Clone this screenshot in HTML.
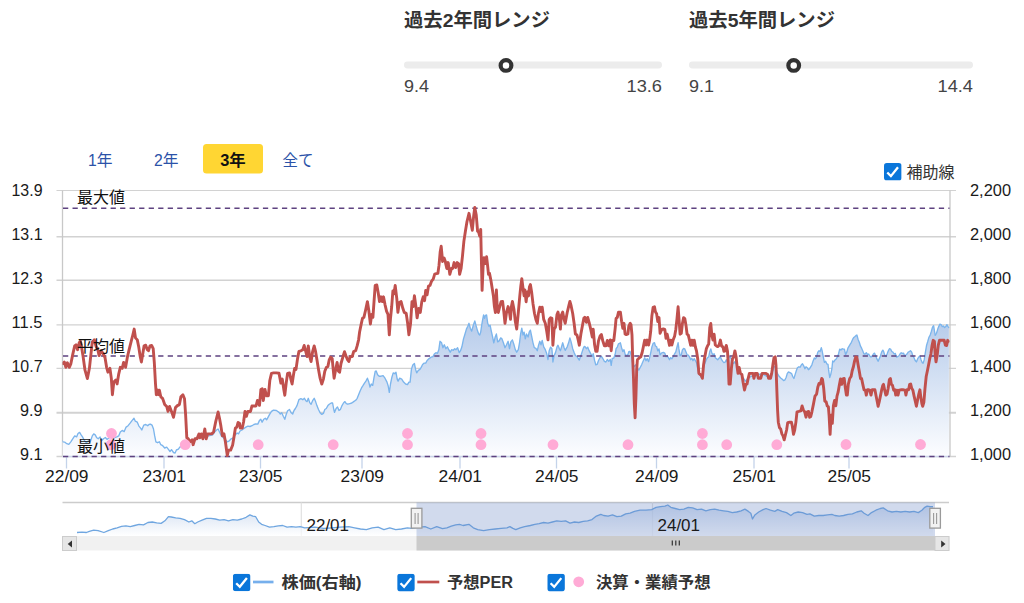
<!DOCTYPE html>
<html lang="ja"><head><meta charset="utf-8"><title>予想PER チャート</title>
<style>
html,body{margin:0;padding:0;background:#fff;}
body{width:1024px;height:603px;overflow:hidden;font-family:"Liberation Sans","Noto Sans CJK JP",sans-serif;}
svg{display:block}
</style></head><body>
<svg width="1024" height="603" viewBox="0 0 1024 603" font-family="'Liberation Sans', 'Noto Sans CJK JP', sans-serif">
<defs>
<linearGradient id="ga" x1="0" y1="317" x2="0" y2="456" gradientUnits="userSpaceOnUse"><stop offset="0" stop-color="#b4caea"/><stop offset="1" stop-color="#fcfdff"/></linearGradient>
<linearGradient id="gn" x1="0" y1="504" x2="0" y2="536" gradientUnits="userSpaceOnUse"><stop offset="0" stop-color="#b9cdea"/><stop offset="1" stop-color="#ffffff"/></linearGradient>
<clipPath id="cp"><rect x="62.5" y="186" width="887" height="272"/></clipPath>
<symbol id="cb" viewBox="0 0 17.6 17.6"><rect x="0" y="0" width="17.6" height="17.6" rx="2.8" fill="#0a76da"/><path d="M3.3 9.5 L6.9 13.1 L14.0 4.3" fill="none" stroke="#fff" stroke-width="2.3" stroke-linecap="butt" stroke-linejoin="miter"/></symbol>
</defs>
<rect width="1024" height="603" fill="#fff"/>
<text x="404" y="26.6" font-size="19" font-weight="bold" fill="#333" text-anchor="start" textLength="146" lengthAdjust="spacingAndGlyphs">過去2年間レンジ</text>
<rect x="404" y="61.6" width="258" height="6.8" rx="3.4" fill="#ececec"/>
<circle cx="506" cy="65.4" r="5.35" fill="#fff" stroke="#333" stroke-width="4.2"/>
<text x="404" y="91.8" font-size="17" fill="#444" text-anchor="start" font-weight="normal" textLength="25" lengthAdjust="spacingAndGlyphs">9.4</text>
<text x="662" y="91.8" font-size="17" fill="#444" text-anchor="end" font-weight="normal" textLength="35.5" lengthAdjust="spacingAndGlyphs">13.6</text>
<text x="689" y="26.6" font-size="19" font-weight="bold" fill="#333" text-anchor="start" textLength="146" lengthAdjust="spacingAndGlyphs">過去5年間レンジ</text>
<rect x="689" y="61.6" width="284" height="6.8" rx="3.4" fill="#ececec"/>
<circle cx="793.7" cy="65.4" r="5.35" fill="#fff" stroke="#333" stroke-width="4.2"/>
<text x="689" y="91.8" font-size="17" fill="#444" text-anchor="start" font-weight="normal" textLength="25" lengthAdjust="spacingAndGlyphs">9.1</text>
<text x="973" y="91.8" font-size="17" fill="#444" text-anchor="end" font-weight="normal" textLength="35.5" lengthAdjust="spacingAndGlyphs">14.4</text>
<text x="88" y="165.6" font-size="16" fill="#2b52a8" text-anchor="start" textLength="24.5" lengthAdjust="spacingAndGlyphs">1年</text>
<text x="154" y="165.6" font-size="16" fill="#2b52a8" text-anchor="start" textLength="24.5" lengthAdjust="spacingAndGlyphs">2年</text>
<rect x="203" y="144" width="60" height="29.6" rx="3.5" fill="#ffd633"/>
<text x="233" y="165.6" font-size="16" font-weight="bold" fill="#111" text-anchor="middle" textLength="25.5" lengthAdjust="spacingAndGlyphs">3年</text>
<text x="282.5" y="165.6" font-size="16" fill="#2b52a8" text-anchor="start" textLength="31" lengthAdjust="spacingAndGlyphs">全て</text>
<use href="#cb" x="884" y="163" width="17.6" height="17.6"/>
<text x="906.5" y="177.5" font-size="16" fill="#333" text-anchor="start" textLength="48" lengthAdjust="spacingAndGlyphs">補助線</text>
<path d="M56.5 190.5H956.0" stroke="#d2d2d2" stroke-width="1.2" fill="none"/>
<path d="M56.5 236.75H956.0" stroke="#d2d2d2" stroke-width="1.5" fill="none"/>
<path d="M56.5 280.2H956.0" stroke="#d2d2d2" stroke-width="1.4" fill="none"/>
<path d="M56.5 324.9H956.0" stroke="#d2d2d2" stroke-width="1.4" fill="none"/>
<path d="M56.5 368.3H956.0" stroke="#d2d2d2" stroke-width="1.25" fill="none"/>
<path d="M56.5 412.7H956.0" stroke="#d2d2d2" stroke-width="1.9" fill="none"/>
<path d="M56.5 456.5H956.0" stroke="#d2d2d2" stroke-width="1.3" fill="none"/>
<path d="M62.5 190.5V456.5" stroke="#c8c8c8" stroke-width="1.3" fill="none"/>
<path d="M950.0 190.5V456.5" stroke="#c8c8c8" stroke-width="1.3" fill="none"/>
<path d="M66.5 456.5V468.5" stroke="#c4d3ea" stroke-width="1.3" fill="none"/>
<path d="M164 456.5V468.5" stroke="#c4d3ea" stroke-width="1.3" fill="none"/>
<path d="M260.5 456.5V468.5" stroke="#c4d3ea" stroke-width="1.3" fill="none"/>
<path d="M362 456.5V468.5" stroke="#c4d3ea" stroke-width="1.3" fill="none"/>
<path d="M460 456.5V468.5" stroke="#c4d3ea" stroke-width="1.3" fill="none"/>
<path d="M556.5 456.5V468.5" stroke="#c4d3ea" stroke-width="1.3" fill="none"/>
<path d="M656.5 456.5V468.5" stroke="#c4d3ea" stroke-width="1.3" fill="none"/>
<path d="M754 456.5V468.5" stroke="#c4d3ea" stroke-width="1.3" fill="none"/>
<path d="M849 456.5V468.5" stroke="#c4d3ea" stroke-width="1.3" fill="none"/>
<g clip-path="url(#cp)"><polygon points="62.3,457.0 62.3,440.8 62.9,441.8 64.9,442.2 66.8,443.7 68.8,444.3 70.8,441.8 72.7,438.8 74.7,435.9 76.6,436.9 78.0,433.5 79.6,432.4 81.1,434.9 82.5,436.9 84.5,440.8 86.4,442.7 88.4,440.8 90.3,441.8 92.3,435.9 93.7,433.9 95.2,434.9 96.8,437.8 98.2,438.8 100.1,436.9 101.5,440.8 103.4,438.8 105.4,437.5 107.0,439.4 108.9,437.8 111.3,436.9 113.8,437.8 116.8,436.9 118.7,435.9 120.3,432.0 122.2,430.4 124.2,431.6 126.1,427.1 128.1,425.7 130.1,423.2 132.0,420.6 134.0,418.3 135.3,421.2 137.3,422.2 138.9,426.1 140.6,428.1 141.8,430.0 143.8,425.1 145.7,424.5 147.7,425.7 149.0,424.5 150.4,424.1 152.0,425.1 153.5,429.0 154.7,435.9 155.9,441.8 157.5,442.7 159.4,441.8 160.8,444.7 162.7,445.7 164.7,448.0 166.7,447.2 168.6,449.6 170.0,451.5 171.5,449.6 173.5,452.5 175.1,453.1 176.4,450.0 178.4,449.2 179.8,447.2 182.3,445.7 185.2,443.7 188.2,442.2 190.1,441.8 192.7,440.2 195.0,438.8 197.0,437.5 200.9,436.9 204.8,435.9 208.7,435.9 212.6,434.9 214.6,432.0 216.6,430.0 218.1,429.0 219.5,432.0 221.4,435.9 223.4,437.8 225.4,439.8 227.3,441.8 229.3,440.8 231.2,438.8 233.2,437.8 235.1,434.9 237.1,433.0 238.5,433.9 240.0,431.0 242.0,430.0 244.0,428.5 245.9,427.1 247.9,426.1 250.0,426.5 252.0,425.7 253.9,424.5 255.9,423.8 257.8,424.1 259.4,420.6 260.8,419.3 262.1,422.2 263.7,419.3 265.3,418.3 266.6,419.8 268.0,417.3 269.6,414.4 271.5,411.4 273.5,410.1 276.4,410.5 279.0,412.4 280.3,414.0 281.7,412.8 283.3,416.3 284.8,419.3 286.2,414.4 287.6,410.8 289.5,409.5 291.1,412.8 292.7,414.0 294.0,410.5 295.4,408.5 297.0,405.6 298.9,399.7 300.9,398.7 302.8,399.7 304.4,398.3 305.8,400.7 307.1,401.6 308.3,398.3 309.7,402.6 311.1,404.2 312.6,400.7 314.2,398.3 315.6,401.6 316.9,405.6 318.5,409.5 320.1,412.8 321.8,414.4 323.4,413.4 324.8,409.5 326.3,408.5 327.9,405.6 329.3,404.2 331.2,403.0 332.6,403.0 333.8,409.5 334.5,412.4 336.1,408.5 337.5,406.9 339.0,410.5 340.4,409.5 342.0,405.6 343.5,403.0 344.9,401.6 346.3,403.6 347.8,404.2 349.8,403.6 351.8,403.0 353.7,401.6 355.7,400.3 357.2,398.3 358.6,394.8 360.0,391.3 361.5,387.9 363.1,385.4 364.5,383.1 365.9,381.1 367.4,378.2 368.8,382.1 370.0,387.0 371.3,384.0 372.7,385.4 373.9,378.2 375.2,371.3 376.2,370.9 377.6,374.8 379.2,376.2 381.1,376.2 383.1,375.6 385.0,378.2 387.0,382.1 388.2,386.0 389.3,392.4 390.5,384.0 391.9,377.2 393.2,372.9 394.8,373.7 396.0,372.3 397.2,379.1 398.1,381.1 399.7,378.2 401.7,379.1 403.6,382.1 405.6,384.0 407.5,384.6 408.9,382.1 410.1,382.1 411.4,369.4 412.8,365.0 414.4,363.5 415.6,369.4 416.7,372.9 418.3,370.3 419.9,369.4 421.2,367.4 422.6,364.5 424.2,363.1 425.7,363.1 427.1,360.5 429.1,358.6 431.0,357.2 433.0,356.6 434.3,354.1 435.9,352.7 437.5,353.3 438.8,349.8 440.0,341.3 441.6,342.8 442.9,347.7 444.3,344.8 445.9,348.7 447.4,346.8 448.8,349.7 450.2,352.2 451.7,349.7 453.3,350.3 454.7,348.7 456.0,349.7 457.6,347.7 459.2,352.6 460.5,350.7 461.9,346.8 463.5,338.9 465.0,334.0 466.4,329.1 467.8,326.2 469.0,323.3 470.3,328.2 471.7,331.1 473.3,325.2 474.8,320.9 476.2,326.2 477.6,331.1 478.7,334.0 479.7,335.0 480.7,332.1 481.7,325.2 482.7,319.4 483.6,315.0 484.6,318.4 485.4,315.4 486.6,315.0 487.7,323.3 488.9,326.2 490.1,325.2 491.3,331.1 492.4,336.0 493.8,342.8 495.2,337.0 496.4,334.0 497.7,341.9 499.1,340.9 500.7,337.9 501.8,338.5 503.4,342.8 505.0,347.7 506.5,344.8 508.1,341.3 509.5,348.7 510.8,341.9 512.4,339.9 514.0,344.8 515.3,349.7 516.7,352.2 518.3,349.7 519.5,342.8 520.6,334.0 521.8,328.2 523.0,335.0 524.1,332.1 525.3,338.9 526.5,334.0 528.1,337.0 529.2,332.1 530.4,330.1 531.6,336.0 533.0,342.8 534.3,347.7 535.9,348.3 537.3,350.7 538.4,345.8 539.8,341.3 541.0,344.8 542.2,340.5 543.7,346.8 545.3,349.7 546.7,353.6 548.0,359.5 549.2,350.7 550.6,347.1 551.9,348.7 552.9,362.0 554.1,355.6 555.5,352.6 557.0,346.8 558.0,345.2 559.4,348.7 560.4,350.7 561.3,347.7 562.7,342.8 564.1,347.7 565.2,350.3 567.2,346.8 568.6,342.8 569.9,337.9 571.1,341.9 572.7,348.7 574.1,352.6 575.4,355.6 577.0,356.5 578.2,358.5 579.3,360.1 580.9,355.6 582.5,350.7 583.8,347.1 584.8,346.4 586.4,348.7 587.7,347.1 589.1,350.7 590.7,353.6 592.3,356.5 593.2,353.6 594.6,360.5 595.8,364.8 597.1,364.4 598.5,360.5 600.1,357.5 601.4,356.5 602.8,358.5 604.4,361.4 605.9,362.0 607.3,359.5 608.7,361.4 610.3,359.5 611.2,365.3 612.2,358.5 613.8,358.1 615.1,354.6 616.1,348.7 617.3,347.1 618.5,343.8 620.4,342.8 621.6,347.7 622.8,351.6 624.0,349.7 625.1,354.2 626.3,355.6 627.9,354.6 628.8,351.6 630.0,351.3 631.6,356.8 632.9,364.6 634.3,366.5 635.9,364.6 637.4,368.5 638.8,370.1 640.2,367.5 641.7,364.6 643.3,360.7 644.7,357.7 646.0,360.7 647.2,358.7 648.6,361.6 649.6,357.7 650.7,352.8 651.9,347.0 653.1,343.4 654.5,342.7 655.4,346.0 656.6,346.6 657.8,350.9 659.0,348.9 660.1,354.8 661.7,352.8 663.3,352.4 664.8,353.2 666.0,356.8 667.2,355.8 668.4,357.7 669.5,359.7 670.7,357.7 671.9,358.7 673.1,356.8 674.6,353.8 675.8,351.9 677.0,347.0 678.1,342.7 678.9,348.9 680.1,355.8 681.3,354.8 682.4,349.9 683.6,348.5 684.8,348.9 686.0,351.9 687.1,354.8 688.3,355.2 689.5,356.8 690.7,359.7 691.8,358.3 693.0,360.7 694.2,358.7 695.4,360.7 696.5,362.6 697.7,368.5 698.9,374.4 700.1,375.3 701.2,377.3 702.4,377.3 703.6,366.5 704.8,363.6 706.3,359.7 707.5,357.7 708.7,356.8 709.8,351.3 710.8,348.9 711.8,352.8 713.0,354.8 714.1,353.8 715.3,357.7 716.5,358.7 717.7,359.7 719.0,358.3 720.4,356.8 721.6,359.7 723.0,361.6 723.9,362.6 725.1,362.2 726.3,359.7 727.5,362.2 728.2,358.7 729.8,356.8 731.4,358.7 732.5,362.6 733.7,363.6 734.9,361.6 736.7,364.6 738.0,370.5 739.6,372.4 741.5,375.3 743.5,378.3 745.5,381.2 747.0,379.3 748.2,378.3 749.8,377.3 751.3,376.3 753.3,375.3 755.2,374.4 757.2,373.4 759.2,374.4 761.1,374.0 763.1,374.4 765.0,375.3 767.0,376.3 768.9,376.3 770.9,374.4 772.9,370.5 774.4,366.5 775.8,367.5 776.8,371.4 777.9,374.4 779.1,376.3 780.7,377.9 782.3,379.3 783.6,380.6 785.0,379.8 786.2,377.3 787.3,373.4 788.5,372.0 790.0,372.6 791.6,373.6 792.7,376.5 793.9,378.5 795.1,374.6 796.3,370.7 797.4,367.7 798.8,366.8 800.2,367.1 801.4,364.8 802.5,363.8 803.7,365.8 804.9,368.7 806.0,366.8 807.2,367.7 808.4,369.7 809.6,368.7 810.7,366.8 811.9,364.8 813.1,360.9 814.3,357.9 815.4,358.9 816.6,357.0 817.8,352.1 819.0,350.7 820.1,351.5 821.3,347.6 822.1,350.7 823.3,357.0 824.4,362.4 825.6,361.3 826.8,363.8 828.0,364.4 828.7,370.7 829.7,377.5 830.7,374.6 831.9,368.7 832.7,360.9 833.8,361.9 835.0,359.9 836.2,358.9 837.4,357.0 838.5,354.0 839.7,349.1 840.9,350.1 842.1,348.7 843.2,349.1 844.4,349.1 845.6,354.6 846.8,352.1 847.9,348.2 849.1,346.2 850.3,344.2 851.4,342.3 852.6,339.4 853.8,337.4 855.0,336.4 856.1,335.4 856.9,335.0 858.1,339.4 859.3,342.3 860.5,346.2 861.6,348.2 862.8,351.1 864.0,354.0 865.1,354.0 866.3,352.7 867.5,354.6 868.7,354.0 869.8,356.0 871.0,357.0 872.2,356.0 873.4,354.0 874.5,353.1 875.7,356.0 876.9,358.9 878.1,361.3 879.2,358.9 880.4,356.0 881.6,352.1 882.8,350.1 883.5,351.1 884.7,355.0 885.9,356.6 887.1,354.0 888.2,351.1 889.4,348.7 890.6,349.1 891.8,351.5 892.9,352.1 894.1,354.0 895.3,353.4 896.5,357.0 897.6,356.6 898.8,356.0 900.0,354.0 901.2,352.7 902.3,353.4 903.5,353.1 904.7,356.0 905.9,355.0 907.0,354.0 908.2,352.1 909.4,351.5 910.5,350.7 911.7,352.1 912.9,356.0 914.1,357.9 915.2,360.5 916.4,361.9 917.6,358.9 918.8,357.0 919.9,356.0 921.1,359.9 922.3,362.8 923.1,363.2 924.2,359.9 925.4,352.1 926.6,345.2 927.8,341.3 928.9,337.4 930.1,335.4 931.3,331.5 932.5,327.2 933.6,325.7 934.4,330.5 935.2,335.4 936.4,333.5 937.6,329.6 938.7,326.6 939.9,324.1 941.1,324.7 942.3,326.6 943.4,326.0 944.6,327.6 945.8,326.6 946.9,324.7 948.1,326.6 948.9,327.6 948.9,457.0" fill="url(#ga)"/>
<polyline points="62.3,440.8 62.9,441.8 64.9,442.2 66.8,443.7 68.8,444.3 70.8,441.8 72.7,438.8 74.7,435.9 76.6,436.9 78.0,433.5 79.6,432.4 81.1,434.9 82.5,436.9 84.5,440.8 86.4,442.7 88.4,440.8 90.3,441.8 92.3,435.9 93.7,433.9 95.2,434.9 96.8,437.8 98.2,438.8 100.1,436.9 101.5,440.8 103.4,438.8 105.4,437.5 107.0,439.4 108.9,437.8 111.3,436.9 113.8,437.8 116.8,436.9 118.7,435.9 120.3,432.0 122.2,430.4 124.2,431.6 126.1,427.1 128.1,425.7 130.1,423.2 132.0,420.6 134.0,418.3 135.3,421.2 137.3,422.2 138.9,426.1 140.6,428.1 141.8,430.0 143.8,425.1 145.7,424.5 147.7,425.7 149.0,424.5 150.4,424.1 152.0,425.1 153.5,429.0 154.7,435.9 155.9,441.8 157.5,442.7 159.4,441.8 160.8,444.7 162.7,445.7 164.7,448.0 166.7,447.2 168.6,449.6 170.0,451.5 171.5,449.6 173.5,452.5 175.1,453.1 176.4,450.0 178.4,449.2 179.8,447.2 182.3,445.7 185.2,443.7 188.2,442.2 190.1,441.8 192.7,440.2 195.0,438.8 197.0,437.5 200.9,436.9 204.8,435.9 208.7,435.9 212.6,434.9 214.6,432.0 216.6,430.0 218.1,429.0 219.5,432.0 221.4,435.9 223.4,437.8 225.4,439.8 227.3,441.8 229.3,440.8 231.2,438.8 233.2,437.8 235.1,434.9 237.1,433.0 238.5,433.9 240.0,431.0 242.0,430.0 244.0,428.5 245.9,427.1 247.9,426.1 250.0,426.5 252.0,425.7 253.9,424.5 255.9,423.8 257.8,424.1 259.4,420.6 260.8,419.3 262.1,422.2 263.7,419.3 265.3,418.3 266.6,419.8 268.0,417.3 269.6,414.4 271.5,411.4 273.5,410.1 276.4,410.5 279.0,412.4 280.3,414.0 281.7,412.8 283.3,416.3 284.8,419.3 286.2,414.4 287.6,410.8 289.5,409.5 291.1,412.8 292.7,414.0 294.0,410.5 295.4,408.5 297.0,405.6 298.9,399.7 300.9,398.7 302.8,399.7 304.4,398.3 305.8,400.7 307.1,401.6 308.3,398.3 309.7,402.6 311.1,404.2 312.6,400.7 314.2,398.3 315.6,401.6 316.9,405.6 318.5,409.5 320.1,412.8 321.8,414.4 323.4,413.4 324.8,409.5 326.3,408.5 327.9,405.6 329.3,404.2 331.2,403.0 332.6,403.0 333.8,409.5 334.5,412.4 336.1,408.5 337.5,406.9 339.0,410.5 340.4,409.5 342.0,405.6 343.5,403.0 344.9,401.6 346.3,403.6 347.8,404.2 349.8,403.6 351.8,403.0 353.7,401.6 355.7,400.3 357.2,398.3 358.6,394.8 360.0,391.3 361.5,387.9 363.1,385.4 364.5,383.1 365.9,381.1 367.4,378.2 368.8,382.1 370.0,387.0 371.3,384.0 372.7,385.4 373.9,378.2 375.2,371.3 376.2,370.9 377.6,374.8 379.2,376.2 381.1,376.2 383.1,375.6 385.0,378.2 387.0,382.1 388.2,386.0 389.3,392.4 390.5,384.0 391.9,377.2 393.2,372.9 394.8,373.7 396.0,372.3 397.2,379.1 398.1,381.1 399.7,378.2 401.7,379.1 403.6,382.1 405.6,384.0 407.5,384.6 408.9,382.1 410.1,382.1 411.4,369.4 412.8,365.0 414.4,363.5 415.6,369.4 416.7,372.9 418.3,370.3 419.9,369.4 421.2,367.4 422.6,364.5 424.2,363.1 425.7,363.1 427.1,360.5 429.1,358.6 431.0,357.2 433.0,356.6 434.3,354.1 435.9,352.7 437.5,353.3 438.8,349.8 440.0,341.3 441.6,342.8 442.9,347.7 444.3,344.8 445.9,348.7 447.4,346.8 448.8,349.7 450.2,352.2 451.7,349.7 453.3,350.3 454.7,348.7 456.0,349.7 457.6,347.7 459.2,352.6 460.5,350.7 461.9,346.8 463.5,338.9 465.0,334.0 466.4,329.1 467.8,326.2 469.0,323.3 470.3,328.2 471.7,331.1 473.3,325.2 474.8,320.9 476.2,326.2 477.6,331.1 478.7,334.0 479.7,335.0 480.7,332.1 481.7,325.2 482.7,319.4 483.6,315.0 484.6,318.4 485.4,315.4 486.6,315.0 487.7,323.3 488.9,326.2 490.1,325.2 491.3,331.1 492.4,336.0 493.8,342.8 495.2,337.0 496.4,334.0 497.7,341.9 499.1,340.9 500.7,337.9 501.8,338.5 503.4,342.8 505.0,347.7 506.5,344.8 508.1,341.3 509.5,348.7 510.8,341.9 512.4,339.9 514.0,344.8 515.3,349.7 516.7,352.2 518.3,349.7 519.5,342.8 520.6,334.0 521.8,328.2 523.0,335.0 524.1,332.1 525.3,338.9 526.5,334.0 528.1,337.0 529.2,332.1 530.4,330.1 531.6,336.0 533.0,342.8 534.3,347.7 535.9,348.3 537.3,350.7 538.4,345.8 539.8,341.3 541.0,344.8 542.2,340.5 543.7,346.8 545.3,349.7 546.7,353.6 548.0,359.5 549.2,350.7 550.6,347.1 551.9,348.7 552.9,362.0 554.1,355.6 555.5,352.6 557.0,346.8 558.0,345.2 559.4,348.7 560.4,350.7 561.3,347.7 562.7,342.8 564.1,347.7 565.2,350.3 567.2,346.8 568.6,342.8 569.9,337.9 571.1,341.9 572.7,348.7 574.1,352.6 575.4,355.6 577.0,356.5 578.2,358.5 579.3,360.1 580.9,355.6 582.5,350.7 583.8,347.1 584.8,346.4 586.4,348.7 587.7,347.1 589.1,350.7 590.7,353.6 592.3,356.5 593.2,353.6 594.6,360.5 595.8,364.8 597.1,364.4 598.5,360.5 600.1,357.5 601.4,356.5 602.8,358.5 604.4,361.4 605.9,362.0 607.3,359.5 608.7,361.4 610.3,359.5 611.2,365.3 612.2,358.5 613.8,358.1 615.1,354.6 616.1,348.7 617.3,347.1 618.5,343.8 620.4,342.8 621.6,347.7 622.8,351.6 624.0,349.7 625.1,354.2 626.3,355.6 627.9,354.6 628.8,351.6 630.0,351.3 631.6,356.8 632.9,364.6 634.3,366.5 635.9,364.6 637.4,368.5 638.8,370.1 640.2,367.5 641.7,364.6 643.3,360.7 644.7,357.7 646.0,360.7 647.2,358.7 648.6,361.6 649.6,357.7 650.7,352.8 651.9,347.0 653.1,343.4 654.5,342.7 655.4,346.0 656.6,346.6 657.8,350.9 659.0,348.9 660.1,354.8 661.7,352.8 663.3,352.4 664.8,353.2 666.0,356.8 667.2,355.8 668.4,357.7 669.5,359.7 670.7,357.7 671.9,358.7 673.1,356.8 674.6,353.8 675.8,351.9 677.0,347.0 678.1,342.7 678.9,348.9 680.1,355.8 681.3,354.8 682.4,349.9 683.6,348.5 684.8,348.9 686.0,351.9 687.1,354.8 688.3,355.2 689.5,356.8 690.7,359.7 691.8,358.3 693.0,360.7 694.2,358.7 695.4,360.7 696.5,362.6 697.7,368.5 698.9,374.4 700.1,375.3 701.2,377.3 702.4,377.3 703.6,366.5 704.8,363.6 706.3,359.7 707.5,357.7 708.7,356.8 709.8,351.3 710.8,348.9 711.8,352.8 713.0,354.8 714.1,353.8 715.3,357.7 716.5,358.7 717.7,359.7 719.0,358.3 720.4,356.8 721.6,359.7 723.0,361.6 723.9,362.6 725.1,362.2 726.3,359.7 727.5,362.2 728.2,358.7 729.8,356.8 731.4,358.7 732.5,362.6 733.7,363.6 734.9,361.6 736.7,364.6 738.0,370.5 739.6,372.4 741.5,375.3 743.5,378.3 745.5,381.2 747.0,379.3 748.2,378.3 749.8,377.3 751.3,376.3 753.3,375.3 755.2,374.4 757.2,373.4 759.2,374.4 761.1,374.0 763.1,374.4 765.0,375.3 767.0,376.3 768.9,376.3 770.9,374.4 772.9,370.5 774.4,366.5 775.8,367.5 776.8,371.4 777.9,374.4 779.1,376.3 780.7,377.9 782.3,379.3 783.6,380.6 785.0,379.8 786.2,377.3 787.3,373.4 788.5,372.0 790.0,372.6 791.6,373.6 792.7,376.5 793.9,378.5 795.1,374.6 796.3,370.7 797.4,367.7 798.8,366.8 800.2,367.1 801.4,364.8 802.5,363.8 803.7,365.8 804.9,368.7 806.0,366.8 807.2,367.7 808.4,369.7 809.6,368.7 810.7,366.8 811.9,364.8 813.1,360.9 814.3,357.9 815.4,358.9 816.6,357.0 817.8,352.1 819.0,350.7 820.1,351.5 821.3,347.6 822.1,350.7 823.3,357.0 824.4,362.4 825.6,361.3 826.8,363.8 828.0,364.4 828.7,370.7 829.7,377.5 830.7,374.6 831.9,368.7 832.7,360.9 833.8,361.9 835.0,359.9 836.2,358.9 837.4,357.0 838.5,354.0 839.7,349.1 840.9,350.1 842.1,348.7 843.2,349.1 844.4,349.1 845.6,354.6 846.8,352.1 847.9,348.2 849.1,346.2 850.3,344.2 851.4,342.3 852.6,339.4 853.8,337.4 855.0,336.4 856.1,335.4 856.9,335.0 858.1,339.4 859.3,342.3 860.5,346.2 861.6,348.2 862.8,351.1 864.0,354.0 865.1,354.0 866.3,352.7 867.5,354.6 868.7,354.0 869.8,356.0 871.0,357.0 872.2,356.0 873.4,354.0 874.5,353.1 875.7,356.0 876.9,358.9 878.1,361.3 879.2,358.9 880.4,356.0 881.6,352.1 882.8,350.1 883.5,351.1 884.7,355.0 885.9,356.6 887.1,354.0 888.2,351.1 889.4,348.7 890.6,349.1 891.8,351.5 892.9,352.1 894.1,354.0 895.3,353.4 896.5,357.0 897.6,356.6 898.8,356.0 900.0,354.0 901.2,352.7 902.3,353.4 903.5,353.1 904.7,356.0 905.9,355.0 907.0,354.0 908.2,352.1 909.4,351.5 910.5,350.7 911.7,352.1 912.9,356.0 914.1,357.9 915.2,360.5 916.4,361.9 917.6,358.9 918.8,357.0 919.9,356.0 921.1,359.9 922.3,362.8 923.1,363.2 924.2,359.9 925.4,352.1 926.6,345.2 927.8,341.3 928.9,337.4 930.1,335.4 931.3,331.5 932.5,327.2 933.6,325.7 934.4,330.5 935.2,335.4 936.4,333.5 937.6,329.6 938.7,326.6 939.9,324.1 941.1,324.7 942.3,326.6 943.4,326.0 944.6,327.6 945.8,326.6 946.9,324.7 948.1,326.6 948.9,327.6" fill="none" stroke="#7cb5ec" stroke-width="1.35" stroke-linejoin="round" stroke-linecap="round"/></g>
<path d="M62.5 456.5H949.5" stroke="#ccd6eb" stroke-width="1.4" fill="none"/>
<path d="M63 208.2H949.5" stroke="#5e4280" stroke-width="1.6" stroke-dasharray="5.25 4.27" fill="none"/>
<path d="M63 356H949.5" stroke="#5e4280" stroke-width="1.6" stroke-dasharray="5.25 4.27" fill="none"/>
<path d="M63 456.5H949.5" stroke="#5e4280" stroke-width="1.6" stroke-dasharray="5.25 4.27" fill="none"/>
<g clip-path="url(#cp)"><polyline points="62.9,363.4 64.3,362.0 65.9,367.3 67.4,362.8 69.4,367.3 70.8,364.0 72.7,354.6 74.7,345.8 76.0,344.8 77.6,349.7 79.2,342.8 80.5,341.3 81.5,346.8 83.1,356.5 85.0,370.2 87.4,378.5 89.4,368.3 90.9,354.6 92.3,341.9 94.2,339.9 96.2,346.8 97.6,348.7 99.1,355.6 101.1,350.7 103.1,353.6 105.0,357.5 106.6,367.3 107.9,372.2 109.9,368.3 111.3,378.1 112.4,394.7 113.8,382.0 115.8,380.0 117.1,383.9 118.7,374.1 120.3,367.3 122.2,368.3 123.6,362.4 125.6,367.3 127.5,356.5 128.9,350.7 130.8,342.8 132.8,335.0 134.2,329.1 135.5,337.9 137.3,339.9 138.7,346.8 140.2,356.5 141.4,362.0 143.0,352.6 144.1,345.8 145.7,345.2 147.3,349.7 148.5,350.7 150.0,345.8 151.6,345.4 153.2,348.7 154.3,362.4 155.5,383.9 156.3,394.7 157.3,389.8 158.4,394.7 159.4,390.2 160.8,396.7 162.7,398.6 164.7,404.5 166.7,406.5 168.0,411.4 169.6,406.5 171.5,411.4 173.5,417.3 175.5,407.5 177.4,405.6 179.4,404.6 180.9,396.8 182.9,394.8 184.5,398.7 185.6,414.4 186.8,437.8 188.2,438.8 190.1,441.8 192.1,439.8 193.1,444.7 195.0,438.8 197.0,438.8 198.9,433.9 199.9,437.8 201.3,433.9 202.9,438.8 204.8,429.0 206.2,438.8 207.7,433.9 209.7,433.9 211.7,433.9 213.6,432.0 215.6,422.2 218.1,412.0 219.5,418.3 220.9,426.1 222.4,435.9 224.0,433.9 225.4,441.8 227.3,455.5 228.5,450.1 230.6,450.1 232.6,445.2 234.0,437.0 235.4,428.0 236.7,427.3 238.1,422.5 239.5,423.2 240.2,428.0 242.3,428.0 243.6,421.8 245.0,411.5 246.4,416.3 247.8,411.5 250.5,411.5 251.9,406.0 254.0,406.0 256.0,406.0 257.4,400.5 259.5,405.3 260.9,389.5 262.2,388.8 263.3,400.5 265.0,389.5 266.4,395.7 268.4,395.7 269.8,380.5 271.5,373.3 273.5,372.9 276.4,372.9 279.0,373.3 280.9,383.1 282.3,379.1 283.7,388.9 284.8,395.2 286.2,383.1 287.6,373.3 289.5,372.9 291.1,380.1 292.1,384.0 293.4,375.2 294.6,368.4 296.0,369.4 297.4,359.6 298.9,351.4 300.9,350.8 302.8,349.8 304.2,345.5 305.8,351.7 307.1,356.6 308.3,345.9 309.7,356.6 311.1,361.5 312.6,351.7 314.2,345.9 315.6,351.7 316.9,359.6 318.5,369.4 320.1,378.2 321.8,384.0 323.4,379.1 324.8,371.3 326.3,367.4 327.9,366.4 329.3,359.6 330.6,357.2 332.2,358.6 333.2,369.4 334.1,378.2 335.7,369.4 337.1,362.5 338.5,371.3 339.6,372.3 341.0,363.5 343.0,356.6 344.5,351.7 345.9,355.7 347.5,359.6 348.8,361.5 350.2,356.6 352.2,356.6 353.7,351.5 355.7,350.6 357.2,345.7 358.6,339.8 359.6,332.0 361.2,324.1 362.5,318.3 363.9,317.3 365.5,310.5 367.4,301.6 368.8,310.5 370.4,324.1 371.7,314.4 372.9,317.3 374.1,300.7 375.2,285.4 376.8,285.0 378.2,292.8 379.5,301.6 381.1,296.8 382.3,301.6 383.5,296.8 385.0,304.6 386.6,311.4 388.0,314.4 389.3,334.9 390.5,318.3 391.7,306.5 392.9,290.9 394.0,293.8 395.2,285.4 396.8,298.7 397.9,312.4 399.3,302.6 401.1,301.6 402.6,307.5 404.2,312.4 406.2,313.4 407.5,322.2 408.9,334.9 410.5,324.1 412.0,301.6 413.2,306.5 414.4,295.8 415.9,306.5 417.1,317.9 418.7,308.5 420.3,312.4 421.8,301.6 423.2,296.8 424.6,300.7 425.7,290.5 427.1,294.8 428.5,286.0 430.0,285.4 431.6,281.1 433.2,279.1 434.7,274.2 436.3,273.7 437.9,273.3 439.0,265.4 440.2,251.7 441.2,246.3 442.6,261.5 444.1,258.0 445.7,262.5 447.3,267.4 448.4,263.5 445.5,262.6 446.8,268.5 448.2,262.6 449.8,274.4 451.4,268.5 452.7,268.5 454.1,262.6 455.7,267.5 457.2,262.6 458.6,263.6 459.6,274.4 461.1,268.5 462.5,255.8 463.9,241.1 465.4,231.3 467.0,221.5 469.0,213.3 470.5,220.5 472.3,230.3 473.7,215.7 474.8,207.4 476.2,214.7 477.6,231.3 478.7,232.3 479.7,236.2 480.7,229.4 481.5,264.6 482.1,290.4 483.1,266.5 484.0,257.7 485.4,263.6 486.6,256.8 487.7,266.5 488.5,274.4 489.5,273.4 490.9,280.2 492.3,289.0 493.4,295.9 494.4,306.6 495.4,312.5 496.4,290.0 497.3,308.6 498.3,312.5 499.7,306.6 501.1,301.7 502.6,301.4 503.8,311.5 505.0,323.3 506.5,312.5 508.1,306.6 509.5,312.5 510.5,319.4 511.4,306.6 512.4,301.4 514.0,309.6 515.3,321.3 516.7,329.1 518.3,312.5 519.8,295.9 520.8,286.1 521.8,278.6 523.0,288.0 524.1,295.9 524.9,290.0 526.1,301.7 527.3,292.0 528.5,295.9 529.4,287.1 530.4,284.5 531.6,292.0 533.0,303.7 534.5,313.5 535.9,319.4 537.3,323.3 538.4,313.5 539.8,307.2 541.0,311.5 542.2,307.2 543.7,319.4 545.3,323.3 546.7,331.1 548.0,339.9 549.2,319.4 550.6,317.8 551.9,318.4 552.9,345.2 554.1,329.1 555.5,327.2 557.0,314.5 558.0,312.1 559.4,319.4 560.4,329.1 561.3,315.4 562.7,312.1 564.1,319.4 565.2,323.3 567.2,312.5 568.6,306.6 569.9,301.4 571.1,305.7 572.7,313.5 574.1,323.3 575.4,334.0 577.0,335.0 578.2,339.9 579.3,345.2 580.9,334.0 582.5,325.2 583.8,318.4 584.8,317.4 586.4,322.3 587.7,317.4 589.1,322.3 590.7,329.1 592.3,337.0 593.2,329.1 594.6,344.8 595.8,351.3 597.1,351.3 598.5,340.9 600.1,336.0 601.4,334.6 602.8,340.9 604.4,345.8 605.9,345.8 607.3,340.5 608.7,345.8 610.3,339.9 611.2,350.7 612.2,340.5 613.8,340.5 615.1,329.1 616.1,318.4 617.3,317.4 618.5,312.1 620.4,312.1 621.6,321.3 622.8,328.2 624.0,323.3 625.1,334.0 626.3,334.6 627.9,334.0 628.8,326.2 630.2,323.3 630.0,323.5 631.0,324.5 632.0,335.2 632.7,358.7 633.5,378.3 634.3,403.7 635.1,417.8 635.9,397.8 636.7,369.5 637.4,359.7 639.4,357.7 640.8,356.8 642.1,352.8 643.3,347.0 644.7,340.1 646.0,345.0 647.2,340.1 648.6,345.0 649.6,340.1 650.7,331.3 651.9,315.7 653.1,307.4 654.5,306.8 655.4,311.7 656.6,313.7 657.8,321.5 659.0,317.6 660.1,333.3 661.7,329.4 663.3,329.0 664.8,329.4 666.0,338.2 667.2,334.2 668.4,340.1 669.5,345.4 670.7,340.1 671.9,345.0 673.1,340.1 674.6,336.2 675.8,329.4 677.0,318.6 678.1,306.8 678.9,317.6 680.1,334.2 681.3,333.3 682.4,323.5 683.6,317.6 684.8,318.6 686.0,325.4 687.1,334.2 688.3,335.2 689.5,340.1 690.7,345.4 691.8,340.1 693.0,345.4 694.2,340.1 695.4,347.0 696.5,350.9 697.7,358.7 698.9,373.4 700.1,374.4 701.2,375.3 702.4,378.3 703.6,364.6 704.8,356.8 706.3,348.9 707.5,346.0 708.7,344.0 709.8,327.4 710.8,323.5 711.8,335.2 713.0,340.1 714.1,334.2 715.3,345.0 716.5,346.0 717.7,346.6 719.0,345.4 720.4,340.1 721.6,346.0 723.0,347.0 723.9,351.3 725.1,350.9 726.3,345.4 727.5,351.3 728.2,362.6 729.0,384.1 730.2,384.1 731.4,368.5 732.5,358.7 733.7,356.8 734.9,350.9 736.1,356.8 737.2,367.5 738.0,373.4 739.2,367.5 740.4,373.4 741.9,374.4 743.1,382.2 744.5,390.0 745.9,384.1 747.0,384.1 748.2,378.3 749.4,373.4 751.3,373.4 752.9,373.4 753.9,378.3 755.2,373.4 757.2,373.4 758.4,378.3 759.5,378.3 760.7,378.3 762.1,373.4 764.1,373.4 766.0,373.4 767.6,374.4 768.6,378.3 770.5,378.3 771.7,373.4 772.9,364.6 774.0,357.7 775.2,356.8 776.0,365.4 776.8,388.9 777.6,410.5 778.3,422.2 779.5,427.7 780.7,429.0 781.9,433.9 783.0,435.9 784.2,439.8 785.4,434.9 786.6,430.0 787.7,422.6 789.5,422.2 791.4,422.1 792.3,426.0 793.5,434.3 794.7,430.0 795.9,422.1 797.0,411.8 798.8,411.4 800.8,410.8 802.1,405.9 803.3,409.8 804.7,411.8 806.0,417.2 807.2,411.8 808.6,411.4 809.6,417.2 810.7,416.7 811.9,411.8 813.5,403.9 815.0,396.1 816.6,394.1 817.8,387.3 819.0,383.4 820.3,384.0 821.7,378.5 822.5,379.5 823.7,388.3 824.8,401.0 826.2,402.0 827.2,405.9 828.4,406.9 829.1,415.7 830.1,434.3 831.1,415.1 832.3,423.3 833.4,405.5 834.6,400.4 835.8,405.9 837.0,396.1 838.1,392.2 839.3,385.3 840.5,378.9 841.7,384.4 842.8,378.9 844.2,378.5 845.4,388.3 846.4,395.1 847.3,395.1 848.3,384.4 849.7,378.5 851.1,376.5 852.2,370.7 853.4,366.8 854.6,360.9 855.8,357.0 856.9,357.4 858.1,364.8 859.5,372.6 860.5,378.5 861.6,378.5 862.8,384.4 864.0,389.8 865.3,390.2 866.3,395.1 867.5,389.8 868.7,389.8 869.8,390.2 871.0,395.1 872.2,389.8 873.8,389.8 874.9,389.8 876.1,396.1 877.3,402.0 878.1,406.3 879.2,402.0 880.4,396.1 881.6,390.2 882.8,385.3 883.5,384.4 884.7,390.2 885.9,395.1 887.1,394.1 888.2,388.3 889.4,379.5 890.4,378.5 891.4,384.4 892.5,385.3 893.7,390.2 894.9,389.8 895.7,395.1 896.8,390.2 898.0,395.1 899.2,390.2 900.8,389.8 901.9,389.8 903.5,389.8 905.1,390.2 905.9,395.1 907.0,389.8 908.6,389.8 909.6,384.4 910.7,384.0 911.7,388.3 912.9,390.2 914.1,396.1 915.2,401.0 916.4,406.3 917.6,400.0 918.8,394.1 919.9,389.8 920.7,396.1 921.9,403.9 922.7,406.3 923.9,402.0 925.0,388.3 926.2,376.5 927.4,370.7 928.6,364.8 929.7,358.9 930.9,354.0 932.1,345.2 933.2,340.3 934.4,341.3 935.2,355.0 936.0,361.9 937.2,355.0 938.3,345.2 939.5,340.3 941.1,340.3 942.6,340.3 944.2,340.3 945.4,345.2 946.6,345.6 947.7,340.3 948.5,341.3" fill="none" stroke="#c0504d" stroke-width="2.9" stroke-linejoin="round" stroke-linecap="round"/></g>
<circle cx="111.5" cy="433.5" r="5.4" fill="#ffabd6"/>
<circle cx="111" cy="444.7" r="5.4" fill="#ffabd6"/>
<circle cx="185.2" cy="444.7" r="5.4" fill="#ffabd6"/>
<circle cx="258.2" cy="444.7" r="5.4" fill="#ffabd6"/>
<circle cx="333.2" cy="444.7" r="5.4" fill="#ffabd6"/>
<circle cx="407.5" cy="433.5" r="5.4" fill="#ffabd6"/>
<circle cx="407.5" cy="444.7" r="5.4" fill="#ffabd6"/>
<circle cx="481" cy="433.5" r="5.4" fill="#ffabd6"/>
<circle cx="481" cy="444.7" r="5.4" fill="#ffabd6"/>
<circle cx="553" cy="444.7" r="5.4" fill="#ffabd6"/>
<circle cx="628" cy="444.7" r="5.4" fill="#ffabd6"/>
<circle cx="702.4" cy="433.5" r="5.4" fill="#ffabd6"/>
<circle cx="702.4" cy="444.7" r="5.4" fill="#ffabd6"/>
<circle cx="726.7" cy="444.7" r="5.4" fill="#ffabd6"/>
<circle cx="776.8" cy="444.7" r="5.4" fill="#ffabd6"/>
<circle cx="846" cy="444.5" r="5.4" fill="#ffabd6"/>
<circle cx="920.5" cy="444.5" r="5.4" fill="#ffabd6"/>
<text x="77" y="203.2" font-size="16" fill="#111" text-anchor="start" textLength="48" lengthAdjust="spacingAndGlyphs">最大値</text>
<text x="77" y="351.5" font-size="16" fill="#111" text-anchor="start" textLength="48" lengthAdjust="spacingAndGlyphs">平均値</text>
<text x="77" y="451.5" font-size="16" fill="#111" text-anchor="start" textLength="48" lengthAdjust="spacingAndGlyphs">最小値</text>
<text x="42.5" y="195.5" font-size="16.8" fill="#1a1a1a" text-anchor="end" font-weight="normal" textLength="31" lengthAdjust="spacingAndGlyphs">13.9</text>
<text x="42.5" y="239.6" font-size="16.8" fill="#1a1a1a" text-anchor="end" font-weight="normal" textLength="31" lengthAdjust="spacingAndGlyphs">13.1</text>
<text x="42.5" y="283.7" font-size="16.8" fill="#1a1a1a" text-anchor="end" font-weight="normal" textLength="31" lengthAdjust="spacingAndGlyphs">12.3</text>
<text x="42.5" y="327.7" font-size="16.8" fill="#1a1a1a" text-anchor="end" font-weight="normal" textLength="31" lengthAdjust="spacingAndGlyphs">11.5</text>
<text x="42.5" y="371.8" font-size="16.8" fill="#1a1a1a" text-anchor="end" font-weight="normal" textLength="31" lengthAdjust="spacingAndGlyphs">10.7</text>
<text x="42.5" y="415.9" font-size="16.8" fill="#1a1a1a" text-anchor="end" font-weight="normal" textLength="22.5" lengthAdjust="spacingAndGlyphs">9.9</text>
<text x="42.5" y="460.0" font-size="16.8" fill="#1a1a1a" text-anchor="end" font-weight="normal" textLength="22.5" lengthAdjust="spacingAndGlyphs">9.1</text>
<text x="970" y="195.5" font-size="16.8" fill="#1a1a1a" text-anchor="start" font-weight="normal" textLength="41" lengthAdjust="spacingAndGlyphs">2,200</text>
<text x="970" y="239.6" font-size="16.8" fill="#1a1a1a" text-anchor="start" font-weight="normal" textLength="41" lengthAdjust="spacingAndGlyphs">2,000</text>
<text x="970" y="283.7" font-size="16.8" fill="#1a1a1a" text-anchor="start" font-weight="normal" textLength="41" lengthAdjust="spacingAndGlyphs">1,800</text>
<text x="970" y="327.7" font-size="16.8" fill="#1a1a1a" text-anchor="start" font-weight="normal" textLength="41" lengthAdjust="spacingAndGlyphs">1,600</text>
<text x="970" y="371.8" font-size="16.8" fill="#1a1a1a" text-anchor="start" font-weight="normal" textLength="41" lengthAdjust="spacingAndGlyphs">1,400</text>
<text x="970" y="415.9" font-size="16.8" fill="#1a1a1a" text-anchor="start" font-weight="normal" textLength="41" lengthAdjust="spacingAndGlyphs">1,200</text>
<text x="970" y="460.0" font-size="16.8" fill="#1a1a1a" text-anchor="start" font-weight="normal" textLength="41" lengthAdjust="spacingAndGlyphs">1,000</text>
<text x="66.8" y="482.2" font-size="16.8" fill="#1a1a1a" text-anchor="middle" font-weight="normal" textLength="43.5" lengthAdjust="spacingAndGlyphs">22/09</text>
<text x="164.3" y="482.2" font-size="16.8" fill="#1a1a1a" text-anchor="middle" font-weight="normal" textLength="43.5" lengthAdjust="spacingAndGlyphs">23/01</text>
<text x="260.8" y="482.2" font-size="16.8" fill="#1a1a1a" text-anchor="middle" font-weight="normal" textLength="43.5" lengthAdjust="spacingAndGlyphs">23/05</text>
<text x="362.3" y="482.2" font-size="16.8" fill="#1a1a1a" text-anchor="middle" font-weight="normal" textLength="43.5" lengthAdjust="spacingAndGlyphs">23/09</text>
<text x="460.3" y="482.2" font-size="16.8" fill="#1a1a1a" text-anchor="middle" font-weight="normal" textLength="43.5" lengthAdjust="spacingAndGlyphs">24/01</text>
<text x="556.8" y="482.2" font-size="16.8" fill="#1a1a1a" text-anchor="middle" font-weight="normal" textLength="43.5" lengthAdjust="spacingAndGlyphs">24/05</text>
<text x="656.8" y="482.2" font-size="16.8" fill="#1a1a1a" text-anchor="middle" font-weight="normal" textLength="43.5" lengthAdjust="spacingAndGlyphs">24/09</text>
<text x="754.3" y="482.2" font-size="16.8" fill="#1a1a1a" text-anchor="middle" font-weight="normal" textLength="43.5" lengthAdjust="spacingAndGlyphs">25/01</text>
<text x="849.3" y="482.2" font-size="16.8" fill="#1a1a1a" text-anchor="middle" font-weight="normal" textLength="43.5" lengthAdjust="spacingAndGlyphs">25/05</text>
<path d="M62.5 502.5H949" stroke="#ccc" stroke-width="1.3" fill="none"/>
<path d="M301.3 502.5V536M652.5 502.5V536" stroke="#e0e0e0" stroke-width="1.2" fill="none"/>
<polygon points="77.0,536.0 77.0,532.5 82.0,532.2 86.4,532.5 89.3,531.3 93.7,530.2 98.1,530.7 103.9,532.5 108.3,530.7 112.7,529.0 117.1,527.8 121.5,526.4 125.9,525.8 130.3,526.6 134.7,525.5 139.1,524.3 143.5,524.9 147.9,522.5 152.3,522.0 156.7,522.8 161.1,523.4 164.9,520.8 168.4,516.7 171.3,517.0 175.7,517.9 180.1,518.4 184.5,519.6 188.9,522.0 191.8,520.8 194.8,523.7 197.7,522.0 202.1,520.2 206.5,518.4 210.9,518.4 215.3,519.0 219.7,520.2 224.1,519.6 228.5,520.8 232.9,519.6 237.3,520.2 241.7,519.0 246.1,517.3 249.9,514.9 252.8,516.1 255.7,516.7 258.7,522.0 261.6,524.3 265.1,525.5 269.5,527.2 273.9,526.6 278.3,525.8 282.7,525.5 287.1,527.2 291.5,526.6 295.9,527.2 300.3,526.6 304.7,527.8 314.9,527.2 323.7,528.4 332.5,527.8 340.0,527.2 348.8,526.6 354.6,527.8 360.5,529.0 366.4,529.6 372.2,527.8 378.1,527.2 383.9,529.6 389.8,527.8 395.7,529.6 401.5,529.0 407.4,527.8 411.8,528.4 419.1,527.2 425.0,526.6 430.8,529.0 436.7,526.6 442.5,528.7 446.9,527.8 451.3,526.1 455.7,524.9 459.5,524.3 463.1,525.5 468.9,524.3 473.3,527.8 477.7,529.6 483.6,530.7 489.4,529.6 495.3,529.0 501.1,528.4 507.0,527.8 509.9,526.6 512.9,528.4 515.8,529.6 520.2,527.8 524.6,526.6 530.4,525.5 534.8,524.3 539.2,523.7 543.6,522.5 548.0,523.1 552.4,522.0 556.8,520.8 561.2,521.4 565.6,520.8 570.0,523.1 574.4,522.0 578.8,522.5 583.2,521.4 587.6,520.8 592.0,519.6 596.4,516.1 600.8,514.3 603.7,515.5 608.1,516.1 612.5,514.9 616.9,516.7 621.3,516.1 625.7,513.8 630.1,513.2 634.5,511.4 640.0,510.2 645.9,510.2 651.7,509.6 656.1,507.3 660.5,506.7 664.9,506.1 667.8,505.0 670.8,507.3 675.2,508.5 679.6,509.6 683.9,509.1 688.3,507.3 692.7,507.9 697.1,509.6 701.5,509.1 705.9,510.8 710.3,509.6 714.7,509.1 719.1,510.2 723.5,510.8 727.9,511.4 732.3,512.6 736.7,512.0 741.1,510.8 744.9,509.1 748.4,511.4 750.8,513.2 752.5,519.0 754.9,514.9 758.7,512.0 763.1,509.6 766.0,508.5 770.4,510.2 774.8,511.4 777.7,509.6 782.1,511.4 786.5,512.6 790.9,515.5 793.8,513.2 798.2,512.0 802.6,512.6 807.0,514.3 809.9,513.8 814.3,516.1 818.7,515.5 823.1,515.5 827.5,514.9 831.9,514.3 834.8,515.5 839.2,516.1 843.6,515.5 848.0,514.3 852.4,513.8 856.8,512.0 861.2,510.8 864.1,513.2 868.0,515.5 871.5,512.6 875.9,510.2 880.3,508.5 883.2,507.9 887.6,510.8 892.0,512.0 896.4,511.4 900.8,512.0 905.2,511.4 909.6,512.0 914.0,511.4 918.3,512.6 921.9,510.2 924.8,507.3 927.1,506.1 930.1,506.7 933.0,506.7 933.0,536.0" fill="url(#gn)" opacity="0.7"/>
<polyline points="77.0,532.5 82.0,532.2 86.4,532.5 89.3,531.3 93.7,530.2 98.1,530.7 103.9,532.5 108.3,530.7 112.7,529.0 117.1,527.8 121.5,526.4 125.9,525.8 130.3,526.6 134.7,525.5 139.1,524.3 143.5,524.9 147.9,522.5 152.3,522.0 156.7,522.8 161.1,523.4 164.9,520.8 168.4,516.7 171.3,517.0 175.7,517.9 180.1,518.4 184.5,519.6 188.9,522.0 191.8,520.8 194.8,523.7 197.7,522.0 202.1,520.2 206.5,518.4 210.9,518.4 215.3,519.0 219.7,520.2 224.1,519.6 228.5,520.8 232.9,519.6 237.3,520.2 241.7,519.0 246.1,517.3 249.9,514.9 252.8,516.1 255.7,516.7 258.7,522.0 261.6,524.3 265.1,525.5 269.5,527.2 273.9,526.6 278.3,525.8 282.7,525.5 287.1,527.2 291.5,526.6 295.9,527.2 300.3,526.6 304.7,527.8 314.9,527.2 323.7,528.4 332.5,527.8 340.0,527.2 348.8,526.6 354.6,527.8 360.5,529.0 366.4,529.6 372.2,527.8 378.1,527.2 383.9,529.6 389.8,527.8 395.7,529.6 401.5,529.0 407.4,527.8 411.8,528.4 419.1,527.2 425.0,526.6 430.8,529.0 436.7,526.6 442.5,528.7 446.9,527.8 451.3,526.1 455.7,524.9 459.5,524.3 463.1,525.5 468.9,524.3 473.3,527.8 477.7,529.6 483.6,530.7 489.4,529.6 495.3,529.0 501.1,528.4 507.0,527.8 509.9,526.6 512.9,528.4 515.8,529.6 520.2,527.8 524.6,526.6 530.4,525.5 534.8,524.3 539.2,523.7 543.6,522.5 548.0,523.1 552.4,522.0 556.8,520.8 561.2,521.4 565.6,520.8 570.0,523.1 574.4,522.0 578.8,522.5 583.2,521.4 587.6,520.8 592.0,519.6 596.4,516.1 600.8,514.3 603.7,515.5 608.1,516.1 612.5,514.9 616.9,516.7 621.3,516.1 625.7,513.8 630.1,513.2 634.5,511.4 640.0,510.2 645.9,510.2 651.7,509.6 656.1,507.3 660.5,506.7 664.9,506.1 667.8,505.0 670.8,507.3 675.2,508.5 679.6,509.6 683.9,509.1 688.3,507.3 692.7,507.9 697.1,509.6 701.5,509.1 705.9,510.8 710.3,509.6 714.7,509.1 719.1,510.2 723.5,510.8 727.9,511.4 732.3,512.6 736.7,512.0 741.1,510.8 744.9,509.1 748.4,511.4 750.8,513.2 752.5,519.0 754.9,514.9 758.7,512.0 763.1,509.6 766.0,508.5 770.4,510.2 774.8,511.4 777.7,509.6 782.1,511.4 786.5,512.6 790.9,515.5 793.8,513.2 798.2,512.0 802.6,512.6 807.0,514.3 809.9,513.8 814.3,516.1 818.7,515.5 823.1,515.5 827.5,514.9 831.9,514.3 834.8,515.5 839.2,516.1 843.6,515.5 848.0,514.3 852.4,513.8 856.8,512.0 861.2,510.8 864.1,513.2 868.0,515.5 871.5,512.6 875.9,510.2 880.3,508.5 883.2,507.9 887.6,510.8 892.0,512.0 896.4,511.4 900.8,512.0 905.2,511.4 909.6,512.0 914.0,511.4 918.3,512.6 921.9,510.2 924.8,507.3 927.1,506.1 930.1,506.7 933.0,506.7" fill="none" stroke="#6fa6e0" stroke-width="1.3" stroke-linejoin="round"/>
<rect x="416.5" y="502.5" width="518.5" height="33.5" fill="#6685c2" fill-opacity="0.3"/>
<text x="306.5" y="530.7" font-size="16.8" fill="#1a1a1a" text-anchor="start" font-weight="normal" textLength="42.5" lengthAdjust="spacingAndGlyphs">22/01</text>
<text x="657.5" y="530.7" font-size="16.8" fill="#1a1a1a" text-anchor="start" font-weight="normal" textLength="42.5" lengthAdjust="spacingAndGlyphs">24/01</text>
<rect x="62.5" y="536" width="887" height="14.5" fill="#f1f1f1"/>
<rect x="416.5" y="536" width="518.5" height="14.5" fill="#cbcbcb"/>
<rect x="62.5" y="536.5" width="14" height="14" fill="#e6e6e6" stroke="#ccc" stroke-width="1"/>
<rect x="935" y="536.5" width="14" height="14" fill="#e6e6e6" stroke="#ccc" stroke-width="1"/>
<path d="M72 540.4v7.2l-4.3-3.6z" fill="#333"/>
<path d="M941.2 540.4v7.2l4.3-3.6z" fill="#333"/>
<path d="M672.3 540.6v5M675.8 540.6v5M679.3 540.6v5" stroke="#333" stroke-width="1.2" fill="none"/>
<rect x="411.3" y="508.3" width="10.6" height="19.8" fill="#f2f2f2" stroke="#9a9a9a" stroke-width="1.3"/>
<path d="M415.1 513v11M418.1 513v11" stroke="#999" stroke-width="1.1" fill="none"/>
<rect x="929.8" y="508.3" width="10.6" height="19.8" fill="#f2f2f2" stroke="#9a9a9a" stroke-width="1.3"/>
<path d="M933.6 513v11M936.6 513v11" stroke="#999" stroke-width="1.1" fill="none"/>
<use href="#cb" x="232.9" y="573.7" width="17.6" height="17.6"/>
<path d="M253 582H273.5" stroke="#76afec" stroke-width="2.7"/>
<text x="281.5" y="588" font-size="16" font-weight="bold" fill="#333" text-anchor="start" textLength="80" lengthAdjust="spacingAndGlyphs">株価(右軸)</text>
<use href="#cb" x="397.2" y="573.8" width="17.6" height="17.6"/>
<path d="M417.3 582H439.3" stroke="#c0504d" stroke-width="2.7"/>
<text x="447" y="588" font-size="16" font-weight="bold" fill="#333" text-anchor="start" textLength="66" lengthAdjust="spacingAndGlyphs">予想PER</text>
<use href="#cb" x="547.3" y="573.8" width="17.6" height="17.6"/>
<circle cx="578.7" cy="581.8" r="5.4" fill="#ffabd6"/>
<text x="596" y="588" font-size="16" font-weight="bold" fill="#333" text-anchor="start" textLength="114.5" lengthAdjust="spacingAndGlyphs">決算・業績予想</text>
</svg>
</body></html>
